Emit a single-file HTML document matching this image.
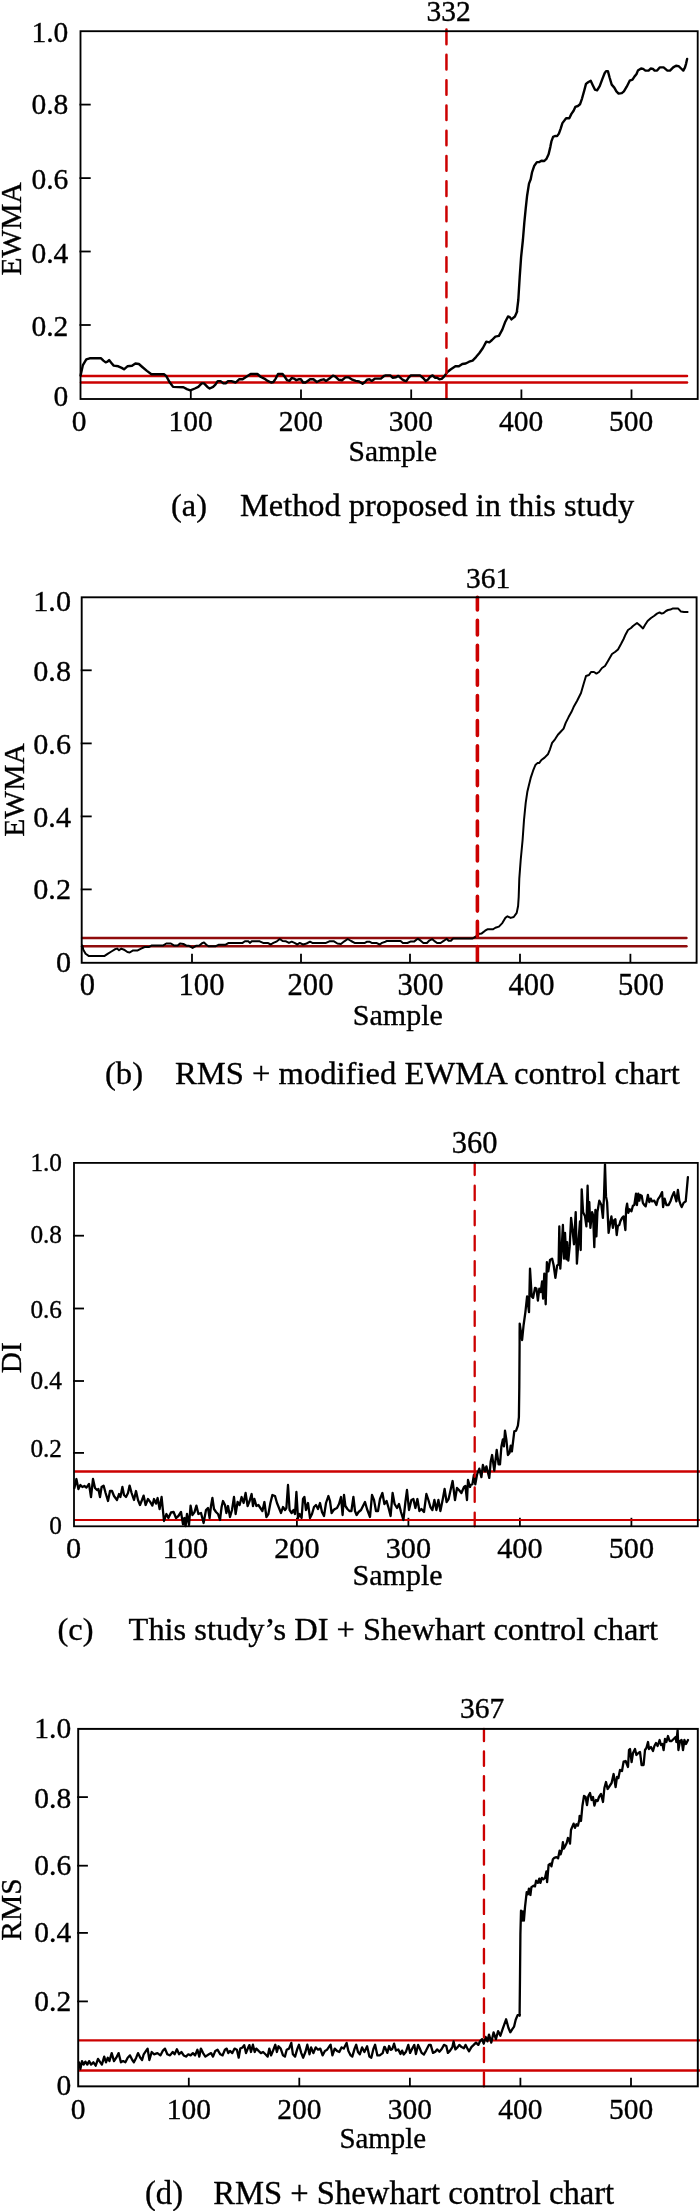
<!DOCTYPE html>
<html><head><meta charset="utf-8"><title>Figure</title>
<style>
html,body{margin:0;padding:0;background:#fff;}
body{width:700px;height:2211px;overflow:hidden;font-family:"Liberation Serif",serif;}
svg{display:block;will-change:transform;}
svg text{font-family:"Liberation Serif",serif;fill:#000;stroke:#000;stroke-width:0.35px;}
</style></head>
<body>
<svg width="700" height="2211" viewBox="0 0 700 2211">
<rect width="700" height="2211" fill="#fff"/>
<line x1="81" y1="376.0" x2="687" y2="376.0" stroke="#cc0000" stroke-width="2.5" stroke-linecap="round"/>
<line x1="81" y1="382.5" x2="687" y2="382.5" stroke="#cc0000" stroke-width="2.5" stroke-linecap="round"/>
<line x1="79.5" y1="104.6" x2="90.7" y2="104.6" stroke="#000" stroke-width="1.8"/>
<line x1="79.5" y1="178.1" x2="90.7" y2="178.1" stroke="#000" stroke-width="1.8"/>
<line x1="79.5" y1="251.5" x2="90.7" y2="251.5" stroke="#000" stroke-width="1.8"/>
<line x1="79.5" y1="325.0" x2="90.7" y2="325.0" stroke="#000" stroke-width="1.8"/>
<line x1="190.8" y1="399.0" x2="190.8" y2="389.5" stroke="#000" stroke-width="1.8"/>
<line x1="301.0" y1="399.0" x2="301.0" y2="389.5" stroke="#000" stroke-width="1.8"/>
<line x1="411.2" y1="399.0" x2="411.2" y2="389.5" stroke="#000" stroke-width="1.8"/>
<line x1="521.4" y1="399.0" x2="521.4" y2="389.5" stroke="#000" stroke-width="1.8"/>
<line x1="631.5" y1="399.0" x2="631.5" y2="389.5" stroke="#000" stroke-width="1.8"/>
<path d="M80.6,375.4 L82.9,365.1 L86.3,359.4 L89.7,358.3 L101.1,358.3 L103.4,360.6 L105.7,362.4 L107.5,361.7 L109.1,360.1 L111.4,362.9 L113.7,365.6 L118.3,366.3 L121.7,367.9 L124.0,369.3 L127.4,366.3 L132.0,365.8 L135.4,363.5 L138.9,364.0 L142.3,367.0 L146.9,370.9 L151.4,374.3 L164.0,374.3 L166.3,376.1 L169.7,382.3 L173.1,386.9 L183.4,387.3 L186.9,389.1 L190.3,390.3 L194.9,388.5 L198.3,386.9 L201.7,383.4 L204.0,383.4 L207.4,386.9 L209.7,388.5 L213.1,386.9 L215.4,384.6 L217.7,381.1 L220.5,381.1 L223.4,383.4 L225.7,383.4 L228.0,381.1 L231.4,381.1 L235.7,382.5 L239.1,379.3 L242.6,379.3 L246.0,377.0 L250.6,374.0 L257.4,374.0 L260.9,377.0 L264.3,378.6 L267.7,380.9 L271.1,382.5 L273.4,382.0 L275.7,378.6 L278.0,374.0 L282.6,374.0 L284.9,377.0 L287.1,380.2 L289.4,380.9 L291.7,377.9 L294.0,378.6 L296.3,380.2 L298.6,379.3 L300.9,379.3 L303.1,382.5 L305.4,382.5 L307.7,380.9 L310.0,379.3 L313.4,379.3 L316.9,382.0 L320.3,380.2 L323.7,379.3 L326.0,380.9 L329.4,378.6 L332.9,375.6 L335.1,376.3 L338.6,379.7 L342.0,380.2 L345.4,377.4 L348.9,377.4 L352.3,379.7 L355.7,380.9 L359.1,381.5 L362.6,383.8 L364.9,382.0 L367.1,379.7 L369.4,379.3 L371.7,380.9 L375.1,378.6 L378.6,378.6 L380.9,378.6 L384.3,375.8 L385.7,375.4 L390.3,375.4 L392.6,377.7 L396.0,377.3 L398.3,375.9 L401.7,378.9 L404.0,380.5 L406.3,381.1 L408.6,377.7 L410.9,375.4 L420.0,375.4 L423.4,378.2 L425.7,381.1 L428.0,379.5 L430.3,376.6 L432.6,375.4 L434.9,377.7 L437.1,377.7 L439.4,379.3 L441.7,378.9 L444.0,376.6 L447.4,372.0 L450.9,369.3 L455.4,366.3 L458.9,366.3 L462.3,364.0 L465.7,363.5 L469.1,361.7 L472.6,360.6 L476.0,357.1 L479.4,353.0 L482.9,348.0 L486.3,341.6 L489.3,342.3 L492.0,340.0 L495.4,336.6 L498.9,335.9 L502.3,329.7 L505.3,321.7 L508.0,316.5 L509.8,317.1 L511.4,319.4 L514.9,316.5 L517.1,311.4 L516.9,311.4 L518.3,300.0 L519.7,277.1 L521.1,257.1 L522.9,240.0 L524.3,222.9 L525.7,208.6 L527.1,195.7 L529.0,183.6 L530.7,179.3 L532.1,172.1 L534.3,165.7 L536.9,162.1 L539.3,162.1 L541.4,160.7 L544.3,161.0 L546.4,158.9 L548.6,154.3 L550.3,147.1 L551.4,141.4 L553.1,136.9 L555.0,136.0 L557.1,136.1 L558.9,133.6 L560.7,128.6 L562.4,123.1 L562.4,123.1 L566.1,118.2 L569.3,118.2 L571.4,113.9 L573.6,110.7 L575.3,106.9 L577.9,106.0 L580.0,104.3 L582.1,98.3 L584.3,90.4 L586.0,83.9 L588.1,82.2 L590.7,80.7 L592.9,85.4 L595.0,89.7 L597.1,90.4 L599.7,86.1 L602.5,78.6 L604.6,73.2 L606.1,71.1 L607.9,71.1 L609.6,77.5 L611.7,84.6 L614.3,87.6 L616.4,91.4 L618.6,93.6 L621.8,93.1 L623.9,91.4 L626.7,86.7 L629.7,80.7 L632.5,79.6 L634.6,76.4 L636.4,74.3 L637.9,70.6 L641.1,68.5 L643.2,68.9 L645.4,70.6 L648.6,70.6 L650.7,68.5 L652.9,68.9 L654.6,70.6 L657.1,70.6 L659.7,67.4 L663.6,67.4 L667.4,70.6 L670.0,70.6 L673.2,67.4 L676.0,65.7 L678.6,66.1 L681.1,68.5 L683.3,70.6 L685.0,67.4 L686.1,63.6 L687.1,58.9" fill="none" stroke="#000" stroke-width="2.4" stroke-linejoin="round" stroke-linecap="round"/>
<line x1="446.45" y1="29.55" x2="446.45" y2="399.0" stroke="#cc0000" stroke-width="2.5" stroke-dasharray="14.6 10.7" stroke-dashoffset="0" stroke-linecap="round"/>
<rect x="80.5" y="31.2" width="617.2" height="367.8" fill="none" stroke="#000" stroke-width="1.85"/>
<text x="68.3" y="42.2" font-size="29.5" text-anchor="end" >1.0</text>
<text x="68.3" y="113.6" font-size="29.5" text-anchor="end" >0.8</text>
<text x="68.3" y="188.9" font-size="29.5" text-anchor="end" >0.6</text>
<text x="68.3" y="263.4" font-size="29.5" text-anchor="end" >0.4</text>
<text x="68.3" y="336" font-size="29.5" text-anchor="end" >0.2</text>
<text x="68.3" y="406" font-size="29.5" text-anchor="end" >0</text>
<text x="79" y="431" font-size="29.5" text-anchor="middle" >0</text>
<text x="190.6" y="431" font-size="29.5" text-anchor="middle" >100</text>
<text x="300.8" y="431" font-size="29.5" text-anchor="middle" >200</text>
<text x="410.9" y="431" font-size="29.5" text-anchor="middle" >300</text>
<text x="521.1" y="431" font-size="29.5" text-anchor="middle" >400</text>
<text x="631.2" y="431" font-size="29.5" text-anchor="middle" >500</text>
<text transform="translate(21.2,228.9) rotate(-90)" font-size="29.5" text-anchor="middle">EWMA</text>
<text x="348.5" y="460.5" font-size="29.5" text-anchor="start" >Sample</text>
<text x="448.7" y="21.4" font-size="29.5" text-anchor="middle" >332</text>
<text x="171" y="515.6" font-size="32.4" text-anchor="start" >(a)</text>
<text x="240" y="515.6" font-size="32.4" text-anchor="start" >Method proposed in this study</text>
<line x1="82" y1="938.0" x2="686.5" y2="938.0" stroke="#900c0c" stroke-width="2.4" stroke-linecap="round"/>
<line x1="82" y1="946.3" x2="686.5" y2="946.3" stroke="#900c0c" stroke-width="2.4" stroke-linecap="round"/>
<line x1="80.7" y1="670.3" x2="91.7" y2="670.3" stroke="#000" stroke-width="1.8"/>
<line x1="80.7" y1="743.4" x2="91.7" y2="743.4" stroke="#000" stroke-width="1.8"/>
<line x1="80.7" y1="816.4" x2="91.7" y2="816.4" stroke="#000" stroke-width="1.8"/>
<line x1="80.7" y1="889.4" x2="91.7" y2="889.4" stroke="#000" stroke-width="1.8"/>
<line x1="192" y1="962.8" x2="192" y2="953.8" stroke="#000" stroke-width="1.8"/>
<line x1="301" y1="962.8" x2="301" y2="953.8" stroke="#000" stroke-width="1.8"/>
<line x1="410" y1="962.8" x2="410" y2="953.8" stroke="#000" stroke-width="1.8"/>
<line x1="520" y1="962.8" x2="520" y2="953.8" stroke="#000" stroke-width="1.8"/>
<line x1="630.4" y1="962.8" x2="630.4" y2="953.8" stroke="#000" stroke-width="1.8"/>
<path d="M82.4,945.6 L83.3,949.7 L85.6,953.8 L88.6,955.9 L104.6,955.9 L108.0,953.6 L111.4,951.5 L114.9,949.3 L117.1,948.6 L119.0,950.2 L121.3,948.6 L124.0,949.7 L127.4,952.0 L129.7,952.5 L133.1,950.4 L137.7,950.4 L141.1,948.6 L144.6,947.0 L149.1,947.0 L151.4,945.6 L162.9,945.6 L166.3,943.5 L170.9,943.5 L174.3,945.6 L177.7,945.6 L180.0,943.5 L183.4,944.0 L186.9,945.8 L189.1,945.8 L192.6,947.9 L196.0,945.8 L199.4,945.6 L201.7,943.5 L204.0,942.4 L206.3,944.7 L208.6,946.3 L215.4,946.3 L218.9,944.7 L225.7,944.7 L228.7,942.9 L230.0,942.9 L242.6,942.9 L244.9,941.3 L248.3,941.3 L250.1,942.9 L251.7,941.3 L259.7,941.3 L263.1,942.9 L267.7,942.9 L270.7,944.5 L273.4,942.9 L276.9,941.3 L279.8,939.0 L282.6,941.0 L286.0,941.3 L289.0,942.9 L291.7,941.7 L294.5,942.9 L297.4,944.5 L299.7,942.9 L303.1,944.5 L306.6,943.5 L310.0,941.7 L312.3,942.9 L326.0,942.9 L329.4,941.3 L334.0,941.3 L337.4,943.5 L340.9,944.0 L344.3,941.3 L347.7,939.0 L351.1,941.0 L354.6,942.9 L364.9,942.9 L367.1,941.7 L369.4,941.7 L371.7,942.9 L376.3,942.9 L379.7,944.5 L382.0,942.9 L385.4,941.7 L386.9,941.0 L400.6,941.0 L402.9,943.0 L407.4,943.0 L410.9,941.4 L414.3,941.4 L417.7,938.7 L420.7,940.7 L423.4,943.0 L426.9,943.0 L429.1,940.7 L432.1,939.1 L434.9,941.4 L437.1,943.0 L440.6,943.0 L444.0,940.7 L446.7,938.7 L448.6,940.7 L450.9,940.7 L453.1,938.5 L472.6,938.5 L476.0,936.4 L478.3,934.1 L481.7,933.4 L485.1,930.7 L487.4,929.3 L493.1,929.3 L495.4,927.7 L498.9,926.6 L502.3,923.1 L505.3,917.9 L507.5,916.3 L510.7,917.9 L513.7,917.0 L516.7,912.9 L518.1,906.0 L518.7,896.9 L519.3,878.6 L520.7,860.0 L522.6,840.0 L524.0,820.0 L525.7,802.9 L527.4,791.4 L528.6,786.4 L530.7,777.9 L533.1,770.7 L535.4,765.0 L537.4,763.1 L539.3,762.9 L541.4,760.0 L544.6,757.6 L547.9,754.3 L550.0,749.3 L552.1,742.9 L555.0,739.3 L557.9,734.7 L560.7,731.7 L563.6,728.6 L565.7,722.9 L568.6,717.1 L571.4,712.1 L573.6,707.1 L577.0,701.0 L581.0,693.0 L583.6,684.0 L586.0,676.0 L589.0,675.0 L591.0,672.0 L594.0,672.0 L596.4,673.6 L599.0,672.0 L602.0,668.0 L605.0,666.0 L608.0,661.0 L612.0,654.0 L615.0,652.0 L618.0,649.4 L621.0,644.0 L623.6,639.0 L625.6,634.4 L628.0,630.0 L631.0,628.0 L633.0,626.0 L637.0,623.0 L640.0,625.6 L643.0,628.4 L645.0,625.0 L647.6,621.0 L651.0,618.0 L654.0,616.0 L657.0,613.6 L659.6,612.4 L661.6,613.6 L663.6,613.0 L666.0,611.0 L668.0,610.0 L670.4,609.6 L673.0,608.4 L678.0,608.4 L681.0,611.6 L684.0,612.0 L687.6,612.0" fill="none" stroke="#000" stroke-width="2.0" stroke-linejoin="round" stroke-linecap="round"/>
<line x1="477.4" y1="597.2" x2="477.4" y2="962.6" stroke="#cc0000" stroke-width="3.6" stroke-dasharray="14.8 10.3" stroke-dashoffset="2.1" stroke-linecap="round"/>
<rect x="81.7" y="597.3" width="614.9" height="365.5" fill="none" stroke="#000" stroke-width="1.9"/>
<text x="71" y="611.2" font-size="30.2" text-anchor="end" >1.0</text>
<text x="71" y="680.5" font-size="30.2" text-anchor="end" >0.8</text>
<text x="71" y="754.4" font-size="30.2" text-anchor="end" >0.6</text>
<text x="71" y="826.5" font-size="30.2" text-anchor="end" >0.4</text>
<text x="71" y="898.7" font-size="30.2" text-anchor="end" >0.2</text>
<text x="71" y="972" font-size="30.2" text-anchor="end" >0</text>
<text x="87.4" y="995.4" font-size="30.6" text-anchor="middle" >0</text>
<text x="201.5" y="995.4" font-size="30.6" text-anchor="middle" >100</text>
<text x="310.5" y="995.4" font-size="30.6" text-anchor="middle" >200</text>
<text x="420.5" y="995.4" font-size="30.6" text-anchor="middle" >300</text>
<text x="531.5" y="995.4" font-size="30.6" text-anchor="middle" >400</text>
<text x="641" y="995.4" font-size="30.6" text-anchor="middle" >500</text>
<text transform="translate(24.2,790) rotate(-90)" font-size="29.5" text-anchor="middle">EWMA</text>
<text x="352.8" y="1024.5" font-size="30" text-anchor="start" >Sample</text>
<text x="488.1" y="587.6" font-size="29.5" text-anchor="middle" >361</text>
<text x="105" y="1084" font-size="32.62" text-anchor="start" >(b)</text>
<text x="175" y="1084" font-size="32.62" text-anchor="start" >RMS + modified EWMA control chart</text>
<line x1="74" y1="1471.4" x2="700" y2="1471.4" stroke="#cc0000" stroke-width="2.05" stroke-linecap="butt"/>
<line x1="74" y1="1520.0" x2="700" y2="1520.0" stroke="#cc0000" stroke-width="2.05" stroke-linecap="butt"/>
<line x1="73.0" y1="1235.7" x2="84.0" y2="1235.7" stroke="#000" stroke-width="1.8"/>
<line x1="73.0" y1="1308.5" x2="84.0" y2="1308.5" stroke="#000" stroke-width="1.8"/>
<line x1="73.0" y1="1381" x2="84.0" y2="1381" stroke="#000" stroke-width="1.8"/>
<line x1="73.0" y1="1452.9" x2="84.0" y2="1452.9" stroke="#000" stroke-width="1.8"/>
<line x1="185.4" y1="1526.3" x2="185.4" y2="1517.8" stroke="#000" stroke-width="1.8"/>
<line x1="296.9" y1="1526.3" x2="296.9" y2="1517.8" stroke="#000" stroke-width="1.8"/>
<line x1="408.4" y1="1526.3" x2="408.4" y2="1517.8" stroke="#000" stroke-width="1.8"/>
<line x1="519.9" y1="1526.3" x2="519.9" y2="1517.8" stroke="#000" stroke-width="1.8"/>
<line x1="631.4" y1="1526.3" x2="631.4" y2="1517.8" stroke="#000" stroke-width="1.8"/>
<line x1="74" y1="1471.4" x2="700" y2="1471.4" stroke="#cc0000" stroke-width="2.05" stroke-linecap="butt"/>
<line x1="74" y1="1520.0" x2="700" y2="1520.0" stroke="#cc0000" stroke-width="2.05" stroke-linecap="butt"/>
<path d="M74.4,1488.0 L76.4,1479.0 L78.4,1489.0 L80.4,1485.0 L82.4,1487.0 L84.4,1486.0 L86.4,1487.6 L89.0,1484.0 L91.0,1497.0 L93.0,1479.0 L95.0,1488.0 L97.0,1490.0 L98.4,1489.0 L100.0,1497.0 L101.6,1487.0 L103.6,1485.6 L105.6,1493.0 L108.0,1501.0 L110.0,1491.0 L112.0,1491.0 L114.0,1496.0 L117.0,1500.0 L119.0,1494.0 L120.4,1497.0 L122.4,1487.0 L124.0,1495.0 L126.0,1497.0 L128.0,1493.0 L129.6,1485.6 L131.6,1493.0 L134.0,1500.0 L136.0,1491.0 L138.0,1500.0 L140.0,1505.0 L142.0,1500.0 L143.6,1495.6 L145.6,1505.0 L148.0,1499.0 L150.0,1501.6 L152.4,1505.6 L154.0,1499.0 L156.0,1503.6 L157.6,1498.0 L159.6,1509.0 L161.6,1497.0 L164.0,1521.0 L166.4,1514.0 L168.4,1518.0 L171.0,1512.4 L173.6,1512.0 L176.0,1518.0 L178.4,1516.0 L181.0,1512.0 L183.0,1524.4 L184.4,1518.0 L185.6,1526.0 L187.0,1514.0 L189.0,1525.0 L190.6,1505.6 L192.4,1515.0 L194.4,1512.4 L196.4,1505.6 L198.4,1514.0 L201.0,1513.0 L203.6,1523.0 L206.0,1510.0 L208.0,1508.0 L209.6,1518.0 L211.0,1506.0 L212.4,1498.0 L214.0,1509.0 L216.0,1512.0 L218.0,1514.0 L220.0,1520.0 L221.6,1507.0 L223.0,1501.0 L225.0,1505.0 L226.4,1513.0 L228.0,1506.0 L230.0,1517.0 L232.0,1510.0 L234.0,1497.0 L235.6,1514.0 L237.6,1502.0 L239.6,1505.0 L241.6,1497.0 L243.6,1503.0 L245.6,1493.0 L247.6,1506.0 L249.6,1501.0 L251.6,1494.0 L253.0,1506.0 L254.4,1499.0 L256.4,1506.0 L258.4,1505.0 L260.4,1508.0 L262.4,1511.0 L264.4,1502.0 L266.4,1517.0 L268.4,1514.0 L270.4,1503.0 L272.4,1495.0 L275.0,1496.0 L277.0,1503.0 L279.0,1508.0 L281.0,1513.0 L283.0,1507.0 L285.0,1510.0 L286.4,1508.0 L288.0,1485.0 L289.6,1510.0 L291.6,1513.0 L293.6,1510.0 L295.0,1514.0 L296.4,1492.0 L298.0,1518.0 L299.6,1514.0 L301.6,1518.0 L303.0,1499.0 L304.4,1497.0 L306.0,1510.0 L308.0,1503.0 L310.0,1518.0 L312.0,1514.0 L314.0,1507.0 L316.0,1505.0 L318.0,1509.0 L320.0,1503.0 L322.0,1512.0 L324.0,1516.0 L326.0,1503.0 L328.4,1496.0 L330.0,1501.0 L331.6,1513.0 L333.6,1510.0 L335.0,1509.0 L337.0,1508.0 L339.0,1504.0 L341.0,1497.0 L342.6,1515.0 L344.0,1495.0 L345.4,1506.0 L347.4,1509.0 L349.4,1511.0 L351.4,1511.0 L353.4,1497.0 L355.0,1511.0 L356.6,1515.0 L358.6,1512.0 L361.0,1510.0 L363.0,1506.0 L365.0,1502.0 L367.0,1509.0 L370.0,1517.0 L372.0,1495.0 L374.0,1500.0 L376.0,1511.0 L378.0,1511.0 L380.0,1499.0 L382.4,1493.0 L384.4,1504.0 L386.6,1501.0 L388.6,1508.0 L390.6,1516.0 L392.6,1493.0 L394.6,1504.0 L397.0,1508.0 L399.0,1504.0 L401.0,1512.0 L403.4,1520.0 L405.4,1502.0 L407.0,1490.0 L409.0,1510.0 L411.4,1500.0 L413.4,1499.0 L415.4,1508.0 L417.4,1499.0 L419.4,1511.0 L421.4,1509.0 L424.0,1512.0 L426.4,1494.0 L428.4,1500.0 L430.4,1507.0 L432.4,1510.0 L434.4,1500.0 L436.4,1510.0 L438.4,1500.0 L440.4,1511.0 L443.0,1498.0 L444.6,1489.0 L446.6,1502.0 L448.6,1499.0 L450.6,1490.0 L452.6,1481.0 L455.0,1500.0 L457.0,1488.0 L459.0,1490.0 L461.4,1493.0 L464.0,1487.0 L465.4,1486.0 L467.0,1500.0 L468.0,1480.0 L470.0,1487.0 L470.7,1485.0 L472.4,1484.3 L473.9,1475.0 L475.3,1484.3 L477.1,1474.3 L479.3,1468.6 L481.4,1477.1 L482.9,1465.0 L485.0,1471.4 L486.4,1466.4 L489.3,1477.9 L490.7,1461.4 L492.1,1455.0 L494.3,1470.7 L496.7,1450.0 L498.6,1464.3 L500.0,1464.3 L501.4,1446.4 L502.9,1439.3 L503.9,1446.4 L505.0,1430.7 L506.4,1440.0 L507.9,1455.0 L509.6,1452.9 L510.7,1445.7 L511.9,1451.4 L514.3,1431.4 L516.1,1430.7 L517.9,1425.7 L518.9,1417.1 L519.3,1387.1 L519.6,1344.3 L519.6,1333.6 L519.7,1323.6 L522.1,1340.0 L523.6,1325.0 L525.4,1312.1 L527.1,1296.4 L529.0,1312.1 L530.0,1268.6 L531.7,1296.4 L533.1,1297.9 L535.0,1287.9 L536.4,1288.6 L537.9,1300.7 L539.3,1288.6 L540.7,1292.1 L542.1,1281.4 L543.1,1298.6 L544.3,1273.6 L545.7,1304.3 L546.9,1262.1 L548.3,1271.4 L550.0,1260.0 L552.1,1258.6 L553.6,1265.0 L555.4,1277.9 L557.1,1265.7 L558.6,1264.3 L559.3,1226.4 L560.3,1268.6 L561.7,1247.9 L562.9,1225.0 L564.0,1258.6 L565.0,1232.9 L566.4,1259.3 L567.1,1242.1 L568.3,1260.7 L569.7,1246.4 L571.1,1217.9 L572.6,1230.7 L574.0,1244.3 L575.7,1212.1 L576.9,1263.6 L578.6,1239.3 L580.0,1221.4 L580.7,1250.0 L581.7,1189.3 L583.1,1212.1 L585.0,1216.4 L586.4,1226.4 L587.6,1185.7 L588.6,1221.4 L589.3,1202.1 L590.4,1227.9 L592.1,1212.1 L593.1,1215.0 L594.3,1247.1 L595.4,1210.0 L596.4,1236.4 L597.4,1212.1 L599.3,1200.7 L601.4,1205.0 L602.9,1217.9 L604.0,1196.4 L605.0,1164.3 L606.0,1196.4 L607.1,1202.1 L608.6,1232.9 L610.3,1222.1 L611.4,1216.4 L612.9,1227.9 L614.3,1220.0 L615.4,1219.3 L616.7,1235.0 L617.9,1225.7 L619.3,1225.0 L620.3,1221.4 L622.1,1217.9 L623.6,1216.4 L625.4,1230.0 L626.1,1209.3 L627.1,1203.6 L628.3,1212.9 L629.7,1209.3 L631.4,1211.4 L632.9,1205.7 L634.3,1205.0 L636.0,1193.6 L636.9,1205.0 L638.3,1193.6 L639.3,1200.7 L640.3,1195.0 L641.7,1195.7 L642.9,1202.9 L644.3,1205.0 L645.7,1206.4 L647.9,1195.0 L649.3,1202.1 L650.7,1198.6 L652.1,1201.4 L654.3,1200.7 L656.4,1205.0 L657.9,1199.3 L660.0,1196.4 L662.1,1192.1 L663.1,1207.1 L664.6,1198.6 L666.4,1205.0 L668.6,1205.0 L670.7,1200.7 L672.1,1196.4 L674.0,1192.1 L675.4,1197.9 L676.4,1201.4 L677.9,1190.0 L679.3,1200.7 L680.7,1205.0 L681.7,1207.1 L683.6,1202.9 L685.7,1201.4 L686.7,1190.7 L687.9,1177.1" fill="none" stroke="#000" stroke-width="2.3" stroke-linejoin="round" stroke-linecap="round"/>
<line x1="474.7" y1="1162.9" x2="474.7" y2="1526.3" stroke="#cc0000" stroke-width="2.3" stroke-dasharray="14.5 10.65" stroke-dashoffset="2.4" stroke-linecap="round"/>
<rect x="74.0" y="1162.9" width="623.8" height="363.39999999999986" fill="none" stroke="#000" stroke-width="1.8"/>
<text x="62" y="1171.3" font-size="25.3" text-anchor="end" >1.0</text>
<text x="62" y="1243" font-size="25.3" text-anchor="end" >0.8</text>
<text x="62" y="1317.6" font-size="25.3" text-anchor="end" >0.6</text>
<text x="62" y="1389.4" font-size="25.3" text-anchor="end" >0.4</text>
<text x="62" y="1457.2" font-size="25.3" text-anchor="end" >0.2</text>
<text x="62" y="1534" font-size="25.3" text-anchor="end" >0</text>
<text x="73.6" y="1558.4" font-size="30.3" text-anchor="middle" >0</text>
<text x="185.4" y="1558.4" font-size="30.3" text-anchor="middle" >100</text>
<text x="296.9" y="1558.4" font-size="30.3" text-anchor="middle" >200</text>
<text x="408.4" y="1558.4" font-size="30.3" text-anchor="middle" >300</text>
<text x="519.9" y="1558.4" font-size="30.3" text-anchor="middle" >400</text>
<text x="631.4" y="1558.4" font-size="30.3" text-anchor="middle" >500</text>
<text transform="translate(21.3,1357.8) rotate(-90)" font-size="29.5" text-anchor="middle">DI</text>
<text x="352.6" y="1584.7" font-size="30" text-anchor="start" >Sample</text>
<text x="474.65" y="1153.1" font-size="30.5" text-anchor="middle" >360</text>
<text x="57.5" y="1639.5" font-size="32.42" text-anchor="start" >(c)</text>
<text x="128.6" y="1639.5" font-size="32.42" text-anchor="start" >This study’s DI + Shewhart control chart</text>
<line x1="78" y1="2040.3" x2="700" y2="2040.3" stroke="#cc0000" stroke-width="2.3" stroke-linecap="butt"/>
<line x1="78" y1="2070.5" x2="700" y2="2070.5" stroke="#cc0000" stroke-width="2.3" stroke-linecap="butt"/>
<line x1="77.2" y1="1797.1" x2="87.9" y2="1797.1" stroke="#000" stroke-width="1.8"/>
<line x1="77.2" y1="1865.7" x2="87.9" y2="1865.7" stroke="#000" stroke-width="1.8"/>
<line x1="77.2" y1="1932.9" x2="87.9" y2="1932.9" stroke="#000" stroke-width="1.8"/>
<line x1="77.2" y1="2001.4" x2="87.9" y2="2001.4" stroke="#000" stroke-width="1.8"/>
<line x1="188.8" y1="2086.35" x2="188.8" y2="2077.75" stroke="#000" stroke-width="1.8"/>
<line x1="299.3" y1="2086.35" x2="299.3" y2="2077.75" stroke="#000" stroke-width="1.8"/>
<line x1="409.9" y1="2086.35" x2="409.9" y2="2077.75" stroke="#000" stroke-width="1.8"/>
<line x1="520.4" y1="2086.35" x2="520.4" y2="2077.75" stroke="#000" stroke-width="1.8"/>
<line x1="631" y1="2086.35" x2="631" y2="2077.75" stroke="#000" stroke-width="1.8"/>
<path d="M79.0,2062.3 L80.4,2069.1 L82.0,2061.1 L83.6,2064.6 L85.4,2061.6 L87.3,2064.6 L89.1,2061.1 L91.1,2064.6 L93.4,2062.3 L95.7,2065.7 L98.0,2058.9 L100.3,2062.3 L101.9,2064.6 L104.2,2056.6 L106.0,2062.3 L107.8,2057.7 L109.4,2061.1 L111.7,2053.1 L114.0,2061.1 L116.3,2057.7 L118.6,2053.1 L120.9,2062.3 L123.1,2061.1 L125.4,2062.3 L127.7,2057.7 L130.0,2055.4 L132.3,2060.0 L133.9,2062.3 L136.2,2057.7 L138.0,2053.1 L140.3,2057.7 L142.1,2060.0 L143.7,2054.3 L146.0,2050.9 L147.6,2048.6 L149.4,2060.0 L151.7,2052.0 L154.0,2054.3 L157.4,2053.1 L160.4,2055.4 L162.7,2050.9 L165.0,2048.6 L167.3,2054.3 L170.0,2055.4 L172.7,2052.0 L174.6,2054.3 L176.9,2049.3 L179.1,2054.3 L181.4,2052.0 L183.7,2055.4 L186.0,2056.6 L188.3,2054.3 L190.6,2055.4 L192.9,2053.1 L195.1,2055.4 L197.4,2049.7 L199.3,2056.6 L200.9,2048.6 L203.1,2053.1 L205.4,2056.6 L208.9,2054.3 L211.1,2053.1 L213.0,2056.6 L215.3,2050.9 L217.5,2049.7 L220.3,2054.3 L222.6,2055.4 L224.9,2049.7 L226.7,2048.6 L228.3,2053.1 L230.0,2050.9 L232.3,2053.1 L234.6,2048.6 L236.9,2049.7 L238.7,2057.7 L240.3,2048.6 L242.6,2047.4 L244.2,2045.1 L246.0,2053.1 L247.8,2048.6 L249.4,2045.1 L251.0,2052.0 L252.9,2044.7 L254.7,2052.0 L256.3,2048.6 L258.6,2050.9 L260.9,2053.1 L263.1,2052.0 L265.4,2054.3 L267.7,2056.6 L269.3,2048.6 L271.1,2055.4 L273.4,2049.7 L275.3,2044.7 L276.9,2052.0 L278.5,2046.3 L280.7,2048.6 L283.0,2055.4 L284.9,2056.6 L286.7,2049.7 L289.0,2048.6 L291.3,2042.9 L292.9,2054.3 L295.1,2056.6 L297.4,2048.6 L299.0,2044.7 L301.3,2053.1 L303.1,2057.7 L305.4,2052.0 L307.3,2044.7 L309.5,2054.3 L311.1,2047.4 L313.4,2053.1 L315.7,2047.4 L318.0,2049.7 L320.3,2048.6 L322.6,2055.4 L324.9,2050.9 L327.1,2049.7 L329.4,2046.3 L330.6,2044.7 L332.4,2055.4 L334.7,2048.6 L337.0,2050.9 L339.3,2052.0 L341.5,2047.4 L343.8,2048.6 L346.6,2042.9 L348.4,2050.9 L350.7,2055.4 L352.3,2056.6 L354.6,2048.6 L356.2,2044.7 L358.0,2052.0 L359.8,2054.3 L362.1,2047.4 L364.4,2052.0 L367.1,2046.3 L369.4,2056.6 L371.3,2057.7 L373.5,2048.6 L375.1,2044.7 L377.4,2055.4 L379.7,2055.4 L382.7,2053.1 L384.3,2047.0 L385.0,2047.1 L387.3,2052.9 L389.1,2046.0 L390.7,2049.9 L392.3,2049.0 L394.1,2043.7 L396.0,2050.6 L398.3,2049.4 L400.5,2054.0 L402.1,2050.6 L403.7,2054.5 L406.0,2051.7 L408.3,2044.9 L410.1,2052.9 L412.4,2048.3 L414.3,2044.9 L415.9,2054.0 L418.1,2044.9 L419.7,2048.3 L421.6,2052.9 L423.9,2054.5 L426.1,2050.6 L428.9,2044.9 L430.7,2044.9 L433.0,2052.9 L435.3,2051.7 L437.1,2049.4 L439.4,2051.7 L441.7,2049.0 L444.0,2044.9 L446.3,2046.0 L447.9,2052.9 L450.1,2050.6 L452.4,2047.1 L453.6,2041.4 L455.4,2049.4 L457.7,2047.1 L459.3,2044.9 L461.6,2047.1 L463.9,2048.3 L465.5,2044.9 L467.3,2048.3 L469.1,2051.3 L471.4,2047.1 L473.7,2044.9 L476.0,2042.6 L478.3,2044.9 L479.9,2041.4 L482.1,2039.1 L483.7,2043.7 L485.6,2036.9 L487.4,2041.4 L489.0,2034.6 L491.3,2042.6 L493.6,2032.3 L495.9,2039.1 L498.1,2031.1 L500.4,2035.7 L502.7,2028.9 L504.3,2024.3 L506.1,2019.3 L508.4,2027.7 L510.3,2032.3 L512.5,2028.9 L514.1,2026.6 L515.7,2019.7 L517.6,2015.1 L519.9,2014.7 L519.6,2015.7 L520.0,1977.1 L520.4,1934.3 L521.0,1910.7 L522.1,1920.7 L522.9,1911.4 L523.9,1920.7 L525.0,1907.1 L526.7,1892.1 L527.9,1894.3 L528.9,1888.6 L530.4,1895.0 L531.4,1887.1 L533.6,1885.7 L535.0,1886.4 L536.1,1880.7 L537.9,1882.9 L539.3,1878.6 L540.4,1882.9 L541.9,1877.9 L543.3,1879.3 L545.0,1877.9 L546.4,1871.4 L547.1,1882.1 L548.6,1865.0 L550.4,1863.6 L551.4,1866.4 L552.9,1859.3 L554.3,1857.9 L556.4,1857.1 L558.1,1858.3 L559.6,1850.7 L560.7,1854.3 L561.9,1850.0 L562.9,1842.1 L563.9,1848.6 L565.0,1846.4 L566.7,1842.9 L567.9,1837.9 L569.0,1839.3 L570.0,1843.6 L571.0,1830.0 L572.1,1827.1 L573.6,1823.6 L575.0,1827.9 L576.4,1824.3 L577.9,1825.7 L579.3,1820.0 L579.6,1816.0 L581.0,1821.0 L582.4,1806.0 L584.0,1796.0 L585.6,1797.0 L587.0,1805.0 L588.4,1796.0 L590.0,1793.0 L591.6,1800.0 L593.0,1797.0 L594.4,1805.6 L596.0,1800.0 L597.6,1801.0 L599.0,1797.0 L601.0,1794.0 L603.0,1802.0 L604.4,1788.0 L606.0,1782.0 L607.6,1789.0 L609.6,1786.0 L611.6,1783.0 L613.6,1774.0 L615.6,1787.0 L617.0,1777.0 L618.4,1778.0 L620.0,1770.0 L622.0,1771.0 L623.6,1761.6 L625.6,1761.0 L628.0,1767.0 L629.0,1750.0 L630.0,1749.0 L631.6,1762.0 L633.0,1753.0 L635.0,1749.0 L636.4,1755.0 L638.4,1753.0 L640.0,1752.0 L641.6,1765.0 L643.6,1765.0 L645.0,1750.0 L646.4,1748.0 L648.0,1742.0 L649.0,1749.0 L651.0,1747.0 L653.0,1751.0 L654.4,1746.0 L656.0,1743.0 L657.6,1746.0 L659.6,1740.0 L661.0,1745.0 L662.4,1744.0 L663.6,1750.0 L665.0,1739.0 L666.4,1742.0 L668.0,1736.0 L669.6,1741.0 L671.6,1741.0 L673.6,1739.0 L675.6,1737.0 L676.4,1742.0 L677.6,1730.0 L678.4,1750.0 L680.0,1741.0 L681.6,1740.0 L683.0,1750.0 L684.4,1740.0 L686.0,1744.0 L688.0,1740.0" fill="none" stroke="#000" stroke-width="2.3" stroke-linejoin="round" stroke-linecap="round"/>
<line x1="483.95" y1="1728.9" x2="483.95" y2="2086.3" stroke="#cc0000" stroke-width="2.35" stroke-dasharray="14.3 10.4" stroke-dashoffset="2.2" stroke-linecap="round"/>
<rect x="78.2" y="1728.9" width="619.5999999999999" height="357.4499999999998" fill="none" stroke="#000" stroke-width="1.95"/>
<text x="71.2" y="1738.3" font-size="29.5" text-anchor="end" >1.0</text>
<text x="71.2" y="1808.1" font-size="29.5" text-anchor="end" >0.8</text>
<text x="71.2" y="1875.3" font-size="29.5" text-anchor="end" >0.6</text>
<text x="71.2" y="1942" font-size="29.5" text-anchor="end" >0.4</text>
<text x="71.2" y="2011.2" font-size="29.5" text-anchor="end" >0.2</text>
<text x="71.2" y="2095.3" font-size="29.5" text-anchor="end" >0</text>
<text x="78" y="2119" font-size="29.5" text-anchor="middle" >0</text>
<text x="188.8" y="2119" font-size="29.5" text-anchor="middle" >100</text>
<text x="299.3" y="2119" font-size="29.5" text-anchor="middle" >200</text>
<text x="409.9" y="2119" font-size="29.5" text-anchor="middle" >300</text>
<text x="520.4" y="2119" font-size="29.5" text-anchor="middle" >400</text>
<text x="631" y="2119" font-size="29.5" text-anchor="middle" >500</text>
<text transform="translate(20.9,1909.5) rotate(-90)" font-size="29.5" text-anchor="middle">RMS</text>
<text x="339.4" y="2147.6" font-size="28.9" text-anchor="start" >Sample</text>
<text x="482" y="1718.3" font-size="29.5" text-anchor="middle" >367</text>
<text x="145" y="2204.4" font-size="32.65" text-anchor="start" >(d)</text>
<text x="213.2" y="2204.4" font-size="32.65" text-anchor="start" >RMS + Shewhart control chart</text>
</svg>
</body></html>
